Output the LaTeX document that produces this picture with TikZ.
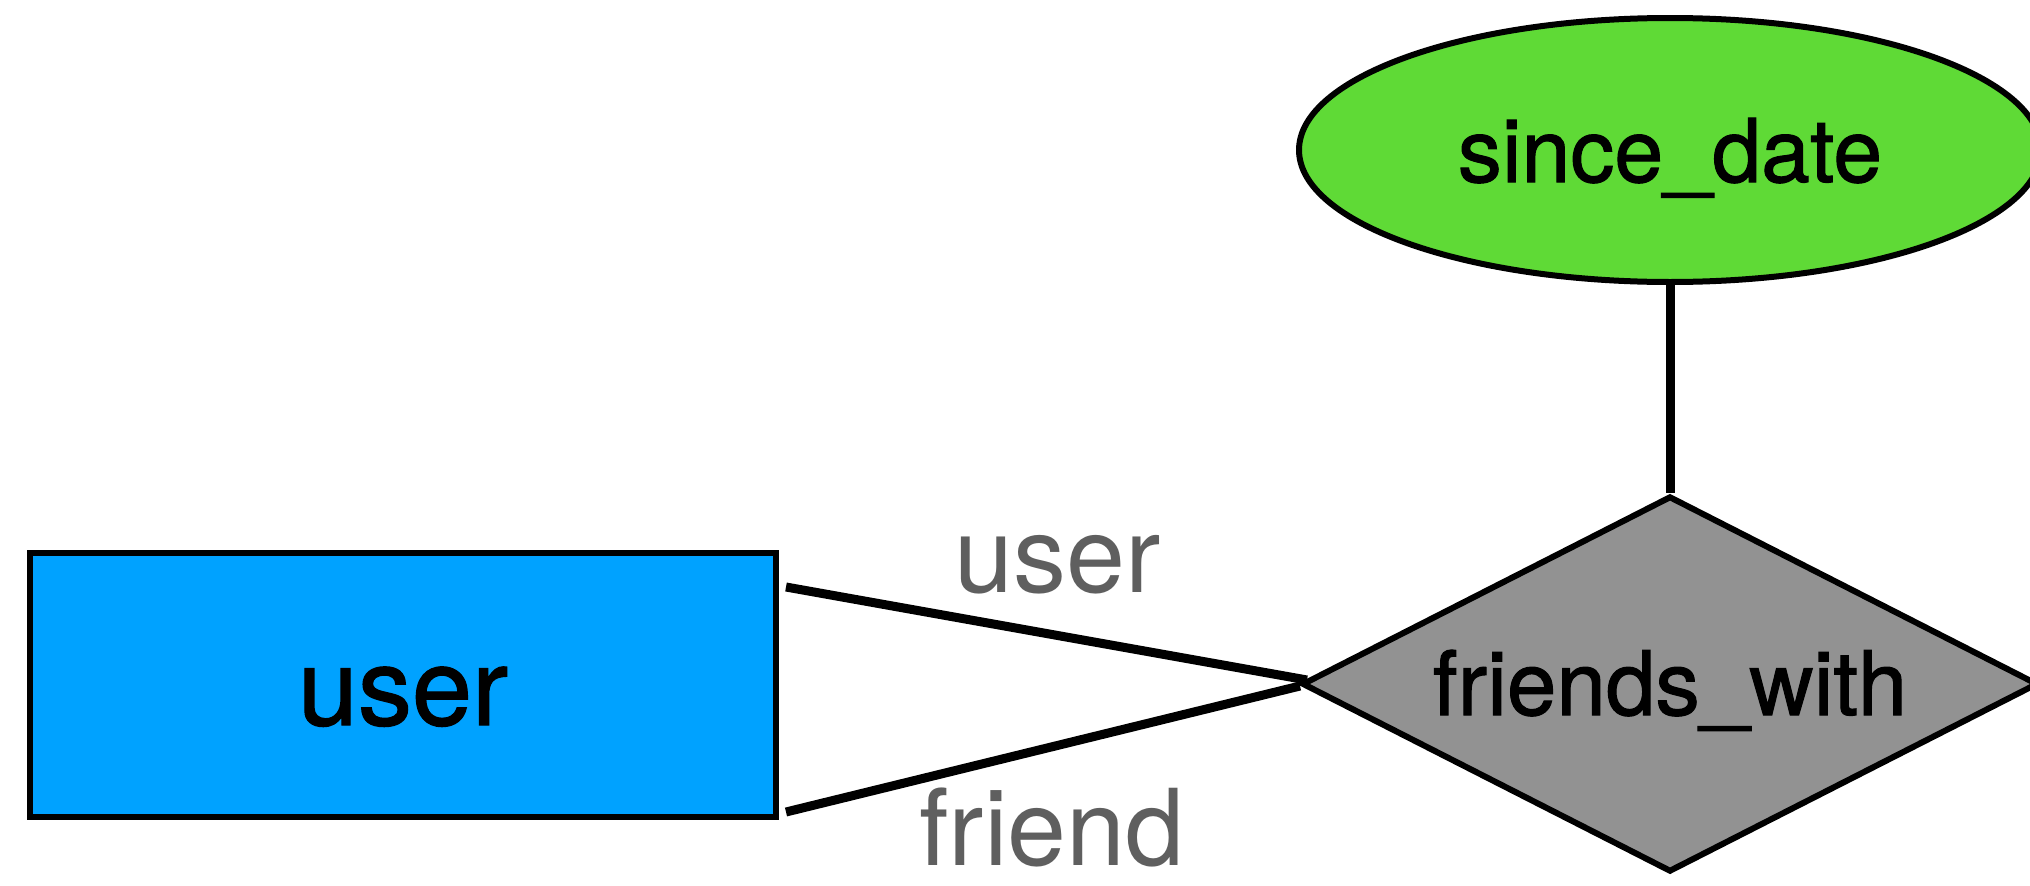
\documentclass[tikz,border=0pt]{standalone}
\usepackage{fontspec}
\setmainfont{TeX Gyre Heros}
\newfontfamily\nodefont[FakeBold=1.2]{TeX Gyre Heros}
\usetikzlibrary{shapes.geometric}
\definecolor{entblue}{HTML}{00A2FF}
\definecolor{attrgreen}{HTML}{5FDA36}
\definecolor{relgray}{HTML}{929292}
\definecolor{lblgray}{HTML}{5F5F5F}
\begin{document}
\begin{tikzpicture}[x=1pt,y=-1pt,
  entity/.style={rectangle, draw=black, line width=6pt, fill=entblue,
    minimum width=746pt, minimum height=264pt, inner sep=0pt,
    text height=80pt, text depth=0pt, font=\nodefont\fontsize{108}{108}\selectfont},
  attribute/.style={ellipse, draw=black, line width=6pt, fill=attrgreen,
    minimum width=742pt, minimum height=264pt, inner sep=0pt,
    text height=64pt, text depth=0pt, font=\nodefont\fontsize{88}{88}\selectfont},
  relation/.style={diamond, draw=black, line width=6pt, fill=relgray,
    aspect=1.957, minimum width=736pt, minimum height=376pt, inner sep=0pt,
    text height=62pt, text depth=0pt, font=\nodefont\fontsize{89}{89}\selectfont},
  conn/.style={draw=black, line width=9pt},
  elabel/.style={anchor=base, text=lblgray, inner sep=0pt,
    font=\fontsize{106}{106}\selectfont}
]
\useasboundingbox (0,0) rectangle (2030,886);
\clip (0,0) rectangle (2030,886);
\fill[white] (0,0) rectangle (2030,886);

\node[entity] (user) at (403,685) {user};
\node[attribute] (sd) at (1670,150) {since\_date};
\node[relation] (fw) at (1670,684) {friends\_with};

\draw[conn] (sd.south) -- (fw.north);
\draw[conn] ([shift={(7,-98)}]user.east) -- ([shift={(8,-4)}]fw.west);
\draw[conn] ([shift={(7,127)}]user.east) -- ([shift={(1,2)}]fw.west);

\node[elabel] (lu) at (1058,592) {user};
\node[elabel] (lf) at (1052,865) {friend};
\end{tikzpicture}
\end{document}
